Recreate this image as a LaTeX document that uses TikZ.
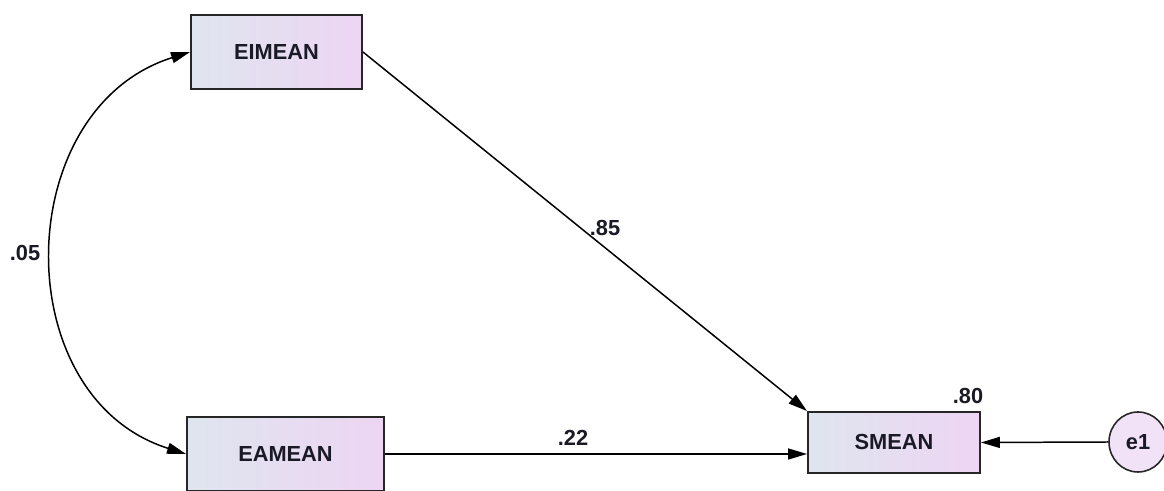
\documentclass[tikz,border=0pt]{standalone}
\usepackage{fontspec}
\setmainfont{Liberation Sans}
\usetikzlibrary{arrows.meta,shapes.geometric}
\definecolor{boxleft}{HTML}{DFE5EF}
\definecolor{boxright}{HTML}{EDD5F3}
\definecolor{ink}{HTML}{1A1A26}
\begin{document}
\begin{tikzpicture}[
    font=\fontsize{12.4}{14}\selectfont\bfseries, text=ink,
    var/.style={draw=black!85, line width=1.1pt, rectangle, minimum height=1.48cm,
      left color=boxleft, right color=boxright, inner sep=0pt},
    err/.style={draw=black!85, line width=0.9pt, ellipse, minimum width=1.16cm,
      minimum height=1.2cm, fill=boxright!70, inner sep=0pt},
    path/.style={line width=0.85pt, -{Triangle[length=0.38cm,width=0.22cm]}},
    cov/.style={line width=0.85pt, {Triangle[length=0.38cm,width=0.22cm]}-{Triangle[length=0.38cm,width=0.22cm]}}
  ]
  \useasboundingbox (0,0) rectangle (23.28,9.82);

  % observed variables
  \node[var, minimum width=3.42cm] (eimean) at (5.53,8.78) {EIMEAN};
  \node[var, minimum width=3.94cm] (eamean) at (5.71,0.74) {EAMEAN};
  \node[var, minimum width=3.44cm, minimum height=1.22cm] (smean) at (17.88,0.97) {SMEAN};
  \node[err] (e1) at (22.76,0.98) {e1};

  % paths
  \draw[path] (eimean.east) -- (smean.north west);
  \draw[path] (eamean.east) -- (eamean.east -| smean.west);
  \draw[path] (e1.west) -- (smean.east);
  \draw[cov] (eimean.west) to[out=197.5, in=162.5, looseness=1.2] (eamean.west);

  % estimates
  \node at (0.5,4.76) {.05};
  \node at (12.1,5.26) {.85};
  \node at (11.46,1.06) {.22};
  \node at (19.36,1.9) {.80};
\end{tikzpicture}
\end{document}
